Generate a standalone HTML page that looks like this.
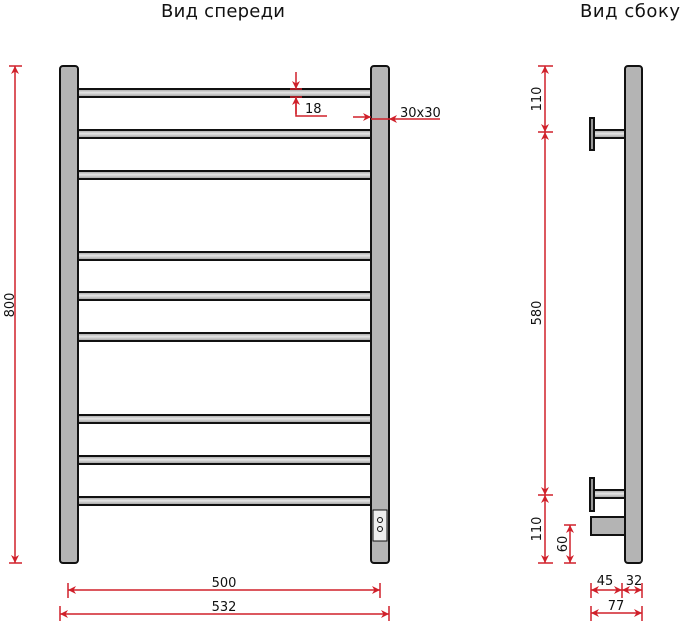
<!DOCTYPE html>
<html><head><meta charset="utf-8"><style>html,body{margin:0;padding:0;background:#fff}svg{display:block}</style></head>
<body>
<svg width="685" height="621" viewBox="0 0 685 621" xmlns="http://www.w3.org/2000/svg" font-family="'DejaVu Sans','Liberation Sans',sans-serif">
<defs>
<marker id="a" viewBox="0 0 10 10" refX="10" refY="5" markerWidth="10" markerHeight="8" orient="auto-start-reverse" markerUnits="userSpaceOnUse"><path d="M0,0 L10,5 L0,10 L3,5 Z" fill="#d0202a"/></marker>
<linearGradient id="rg" x1="0" y1="0" x2="0" y2="1"><stop offset="0" stop-color="#999"/><stop offset="0.45" stop-color="#e6e6e6"/><stop offset="1" stop-color="#999"/></linearGradient>
</defs>
<text x="161" y="17" font-size="18" textLength="124" fill="#111">Вид спереди</text>
<text x="580" y="17" font-size="18" textLength="100" fill="#111">Вид сбоку</text>
<g stroke="#111" stroke-width="2">
<rect x="78" y="89" width="293" height="8" fill="url(#rg)"/>
<rect x="78" y="130" width="293" height="8" fill="url(#rg)"/>
<rect x="78" y="171" width="293" height="8" fill="url(#rg)"/>
<rect x="78" y="252" width="293" height="8" fill="url(#rg)"/>
<rect x="78" y="292" width="293" height="8" fill="url(#rg)"/>
<rect x="78" y="333" width="293" height="8" fill="url(#rg)"/>
<rect x="78" y="415" width="293" height="8" fill="url(#rg)"/>
<rect x="78" y="456" width="293" height="8" fill="url(#rg)"/>
<rect x="78" y="497" width="293" height="8" fill="url(#rg)"/>
<rect x="60" y="66" width="18" height="497" rx="3" fill="#b4b4b4"/>
<rect x="371" y="66" width="18" height="497" rx="3" fill="#b4b4b4"/>
<rect x="373" y="510" width="14" height="31" fill="#eee" stroke-width="1"/>
<circle cx="380" cy="520" r="2.5" fill="none" stroke-width="1"/>
<circle cx="380" cy="529" r="2.5" fill="none" stroke-width="1"/>
<rect x="625" y="66" width="17" height="497" rx="3" fill="#b4b4b4"/>
<rect x="594" y="130" width="31" height="8" fill="url(#rg)"/>
<rect x="590" y="118" width="4" height="32" fill="#999"/>
<rect x="594" y="490" width="31" height="8" fill="url(#rg)"/>
<rect x="590" y="478" width="4" height="33" fill="#999"/>
<rect x="591" y="517" width="34" height="18" fill="#b4b4b4"/>
</g>
<g stroke="#d0202a" stroke-width="1.5" fill="none">
<line x1="15" y1="66" x2="15" y2="563" marker-start="url(#a)" marker-end="url(#a)"/>
<line x1="9" y1="66" x2="22" y2="66"/><line x1="9" y1="563" x2="22" y2="563"/>
<line x1="68" y1="590" x2="380" y2="590" marker-start="url(#a)" marker-end="url(#a)"/>
<line x1="68" y1="583" x2="68" y2="598"/><line x1="380" y1="583" x2="380" y2="598"/>
<line x1="60" y1="614" x2="389" y2="614" marker-start="url(#a)" marker-end="url(#a)"/>
<line x1="60" y1="606" x2="60" y2="621"/><line x1="389" y1="606" x2="389" y2="621"/>
<line x1="296" y1="72" x2="296" y2="89" marker-end="url(#a)"/>
<line x1="296" y1="114" x2="296" y2="97" marker-end="url(#a)"/>
<line x1="290" y1="89" x2="302" y2="89"/><line x1="290" y1="97" x2="302" y2="97"/>
<polyline points="296,97 296,116 327,116"/>
<line x1="353" y1="117" x2="371" y2="117" marker-end="url(#a)"/>
<line x1="440" y1="119" x2="389" y2="119" marker-end="url(#a)"/>
<line x1="371" y1="119" x2="389" y2="119"/>
<line x1="545" y1="66" x2="545" y2="132" marker-start="url(#a)" marker-end="url(#a)"/>
<line x1="545" y1="132" x2="545" y2="495" marker-start="url(#a)" marker-end="url(#a)"/>
<line x1="545" y1="495" x2="545" y2="563" marker-start="url(#a)" marker-end="url(#a)"/>
<line x1="538" y1="66" x2="553" y2="66"/><line x1="538" y1="132" x2="553" y2="132"/>
<line x1="538" y1="495" x2="553" y2="495"/><line x1="538" y1="563" x2="553" y2="563"/>
<line x1="570" y1="525" x2="570" y2="563" marker-start="url(#a)" marker-end="url(#a)"/>
<line x1="564" y1="525" x2="576" y2="525"/><line x1="564" y1="563" x2="576" y2="563"/>
<line x1="591" y1="590" x2="622" y2="590" marker-start="url(#a)" marker-end="url(#a)"/>
<line x1="622" y1="590" x2="642" y2="590" marker-start="url(#a)" marker-end="url(#a)"/>
<line x1="591" y1="583" x2="591" y2="598"/><line x1="622" y1="583" x2="622" y2="598"/><line x1="642" y1="583" x2="642" y2="598"/>
<line x1="591" y1="613" x2="642" y2="613" marker-start="url(#a)" marker-end="url(#a)"/>
<line x1="591" y1="606" x2="591" y2="621"/><line x1="642" y1="606" x2="642" y2="621"/>
</g>
<g font-size="13" fill="#111">
<text x="14" y="305" text-anchor="middle" transform="rotate(-90 14 305)">800</text>
<text x="224" y="587" text-anchor="middle">500</text>
<text x="224" y="611" text-anchor="middle">532</text>
<text x="305" y="113">18</text>
<text x="400" y="117">30x30</text>
<text x="541" y="99" text-anchor="middle" transform="rotate(-90 541 99)">110</text>
<text x="541" y="313" text-anchor="middle" transform="rotate(-90 541 313)">580</text>
<text x="541" y="529" text-anchor="middle" transform="rotate(-90 541 529)">110</text>
<text x="567" y="544" text-anchor="middle" transform="rotate(-90 567 544)">60</text>
<text x="605" y="585" text-anchor="middle">45</text>
<text x="634" y="585" text-anchor="middle">32</text>
<text x="616" y="610" text-anchor="middle">77</text>
</g>
</svg>
</body></html>
